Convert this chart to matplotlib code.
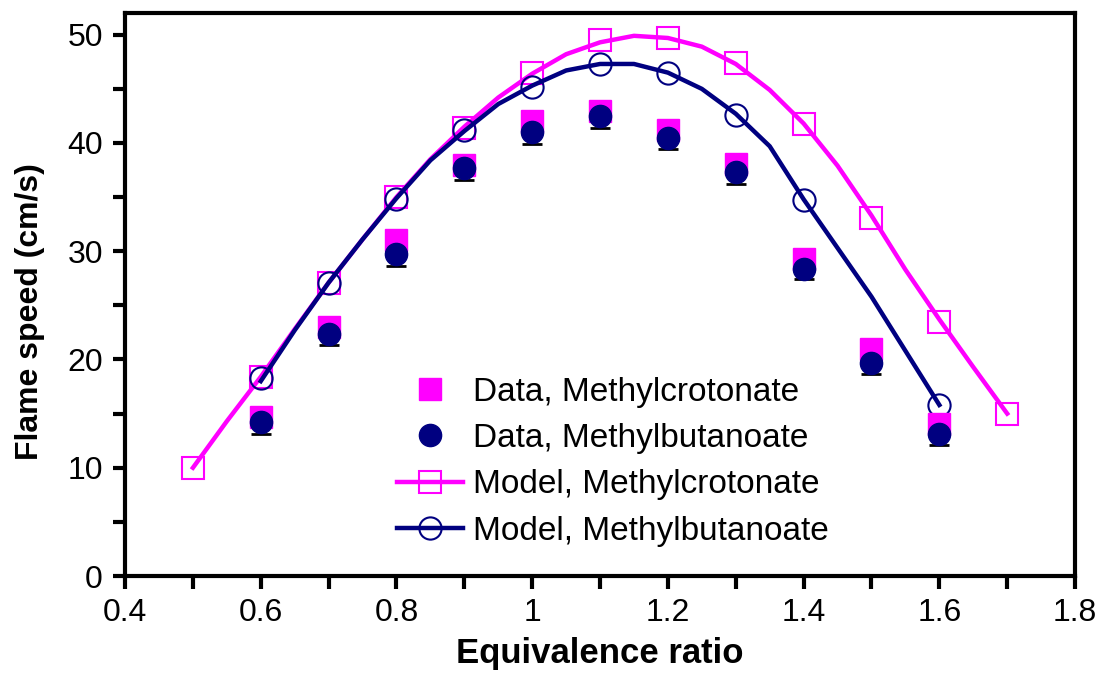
import matplotlib
matplotlib.use("Agg")
import matplotlib.pyplot as plt
from matplotlib.ticker import MultipleLocator

plt.rcParams['font.family'] = ['Liberation Sans', 'DejaVu Sans']

# measured data
phi_data = [0.6, 0.7, 0.8, 0.9, 1.0, 1.1, 1.2, 1.3, 1.4, 1.5, 1.6]
crot_data = [14.7, 23.0, 31.0, 38.0, 42.0, 43.0, 41.2, 38.1, 29.3, 21.0, 14.0]
buta_data = [14.2, 22.4, 29.7, 37.7, 41.0, 42.5, 40.5, 37.3, 28.4, 19.7, 13.1]
buta_err = [1.1, 1.1, 1.1, 1.1, 1.1, 1.1, 1.1, 1.1, 1.0, 1.0, 1.0]

# model curves
phi_crot_line = [0.5, 0.55, 0.6, 0.65, 0.7, 0.75, 0.8, 0.85, 0.9, 0.95, 1.0, 1.05, 1.1,
                 1.15, 1.2, 1.25, 1.3, 1.35, 1.4, 1.45, 1.5, 1.55, 1.6, 1.65, 1.7]
crot_line = [10.0, 14.3, 18.4, 22.8, 27.1, 31.1, 35.0, 38.5, 41.5, 44.2, 46.4, 48.2, 49.3,
             49.9, 49.7, 48.9, 47.3, 44.9, 41.8, 37.9, 33.3, 28.3, 23.7, 19.3, 15.0]
phi_crot_mark = [0.5, 0.6, 0.7, 0.8, 0.9, 1.0, 1.1, 1.2, 1.3, 1.4, 1.5, 1.6, 1.7]
crot_mark = [10.0, 18.4, 27.1, 35.0, 41.4, 46.5, 49.5, 49.7, 47.4, 41.8, 33.1, 23.5, 15.0]

phi_buta_line = [0.6, 0.65, 0.7, 0.75, 0.8, 0.85, 0.9, 0.95, 1.0, 1.05, 1.1, 1.15,
                 1.2, 1.25, 1.3, 1.35, 1.4, 1.45, 1.5, 1.55, 1.6]
buta_line = [18.0, 22.7, 27.1, 31.1, 34.9, 38.4, 41.1, 43.6, 45.3, 46.7, 47.3, 47.3,
             46.5, 45.0, 42.7, 39.7, 34.8, 30.3, 25.8, 20.8, 15.8]
phi_buta_mark = [0.6, 0.7, 0.8, 0.9, 1.0, 1.1, 1.2, 1.3, 1.4, 1.6]
buta_mark = [18.3, 27.1, 34.8, 41.2, 45.2, 47.3, 46.5, 42.6, 34.7, 15.8]

MAG = '#FF00FF'
NAVY = '#000080'

fig = plt.figure(figsize=(10.97, 6.89), dpi=100)
ax = fig.add_axes([0.114, 0.164, 0.866, 0.817])

# data (error bars sit behind the markers, only the lower cap shows)
ax.errorbar(phi_data, buta_data, yerr=buta_err, fmt='none', ecolor='black',
            elinewidth=1.5, capsize=7, capthick=2, zorder=2.5)
sq, = ax.plot(phi_data, crot_data, 's', color=MAG, ms=16, mec=MAG, ls='none', zorder=3)
ci, = ax.plot(phi_data, buta_data, 'o', color=NAVY, ms=16, mec=NAVY, ls='none', zorder=5)

# model
l1, = ax.plot(phi_crot_line, crot_line, '-', color=MAG, lw=3.2, zorder=2)
m1, = ax.plot(phi_crot_mark, crot_mark, 's', mfc='none', mec=MAG, ms=16, mew=1.5, ls='none', zorder=2)
l2, = ax.plot(phi_buta_line, buta_line, '-', color=NAVY, lw=3.2, zorder=2)
m2, = ax.plot(phi_buta_mark, buta_mark, 'o', mfc='none', mec=NAVY, ms=16, mew=1.5, ls='none', zorder=2)

ax.set_xlim(0.4, 1.8)
ax.set_ylim(0, 52)
ax.xaxis.set_minor_locator(MultipleLocator(0.1))
ax.yaxis.set_major_locator(MultipleLocator(10))
ax.yaxis.set_minor_locator(MultipleLocator(5))
ax.set_xticks([0.4, 0.6, 0.8, 1.0, 1.2, 1.4, 1.6, 1.8])
ax.set_xticklabels(['0.4', '0.6', '0.8', '1', '1.2', '1.4', '1.6', '1.8'])

for s in ax.spines.values():
    s.set_linewidth(3)
ax.tick_params(which='major', direction='out', length=9, width=3, labelsize=23, pad=7)
ax.tick_params(which='minor', direction='out', length=9, width=3)

ax.set_xlabel('Equivalence ratio', fontsize=25, fontweight='bold', labelpad=6)
ax.set_ylabel('Flame speed (cm/s)', fontsize=23, fontweight='bold', labelpad=6)
ax.yaxis.set_label_coords(-0.084, 0.47)

leg = ax.legend([sq, ci, (l1, m1), (l2, m2)],
                ['Data, Methylcrotonate', 'Data, Methylbutanoate',
                 'Model, Methylcrotonate', 'Model, Methylbutanoate'],
                loc='upper left', bbox_to_anchor=(0.272, 0.378), frameon=False,
                fontsize=24, handlelength=2.0, handletextpad=0.3, labelspacing=0.46,
                borderaxespad=0)

fig.savefig('out.png', dpi=100)
